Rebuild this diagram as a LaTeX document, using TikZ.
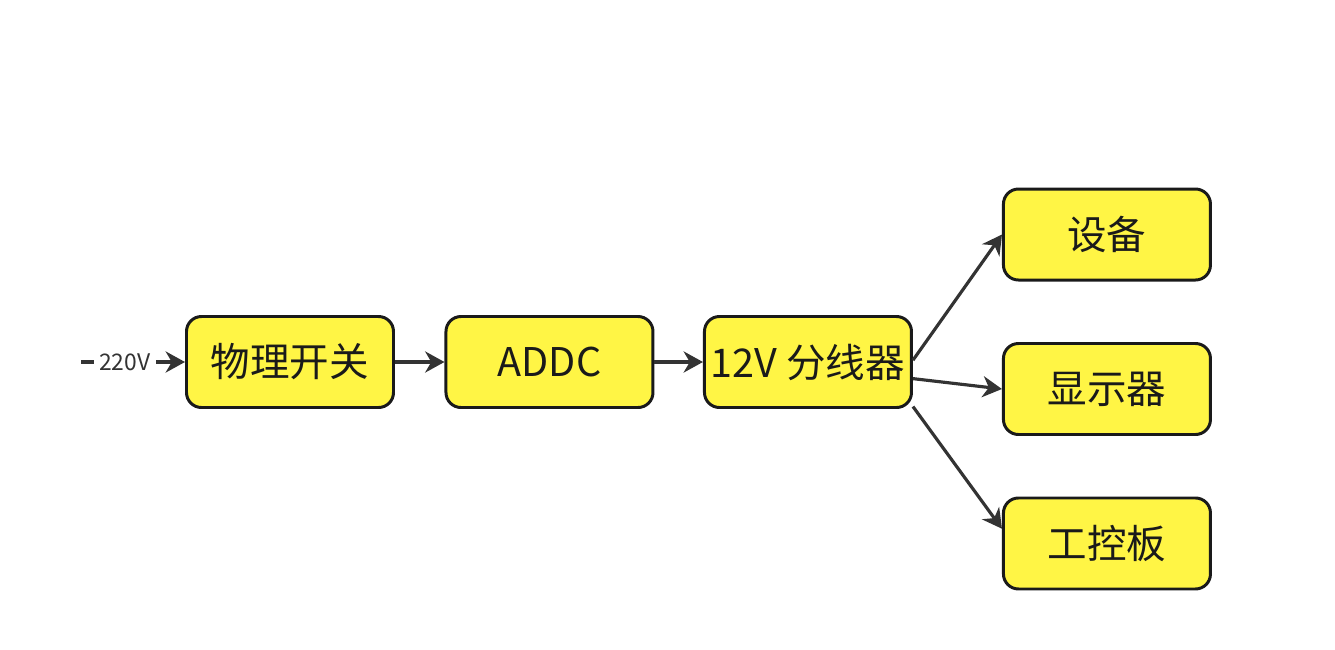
\documentclass[tikz,border=0pt]{standalone}
\usepackage{fontspec}
\setmainfont{Noto Sans CJK SC}
\usepackage{tikz}
\usetikzlibrary{arrows.meta,positioning,calc}
\definecolor{boxyellow}{HTML}{FFF545}
\definecolor{boxline}{HTML}{1A1A1A}
\definecolor{wiregray}{HTML}{333333}

\begin{document}
\begin{tikzpicture}[>={Stealth[length=11pt,width=12pt,inset=3.5pt]},
    block/.style = {shape=rectangle, rounded corners=0.3cm, draw=boxline,
      line width=1.7pt, fill=boxyellow, minimum width=4.14cm,
      minimum height=1.82cm, align=center, text=boxline,
      font=\fontsize{22.5}{26}\selectfont},
    wire/.style = {line width=1.8pt, draw=wiregray, ->}
    ]
\useasboundingbox (-5.8,-5.74) rectangle (20.9,7.24);
% main chain
\node[block](sw) {物理开关};
\node[block, right=0.99cm of sw](addc) {ADDC};
\node[block, right=0.97cm of addc](split) {12V 分线器};
% loads
\node[block, right=1.78cm of split, yshift=-0.54cm](disp) {显示器};
\node[block, above=1.21cm of disp](dev) {设备};
\node[block, below=1.21cm of disp](board) {工控板};
\coordinate[left=2.08cm of sw.west](src);
\draw[wire] (src) -- node[pos=0.42, fill=white, inner sep=3pt, text=wiregray,
  font=\fontsize{13}{15}\selectfont] {220V} (sw);
\draw[wire] (sw) -- (addc);
\draw[wire] (addc) -- (split);
\draw[wire] (split.1) -- (dev.west);
\draw[wire] (split.-9) -- (disp.west);
\draw[wire] (split.-23) -- (board.172);
\end{tikzpicture}
\end{document}
